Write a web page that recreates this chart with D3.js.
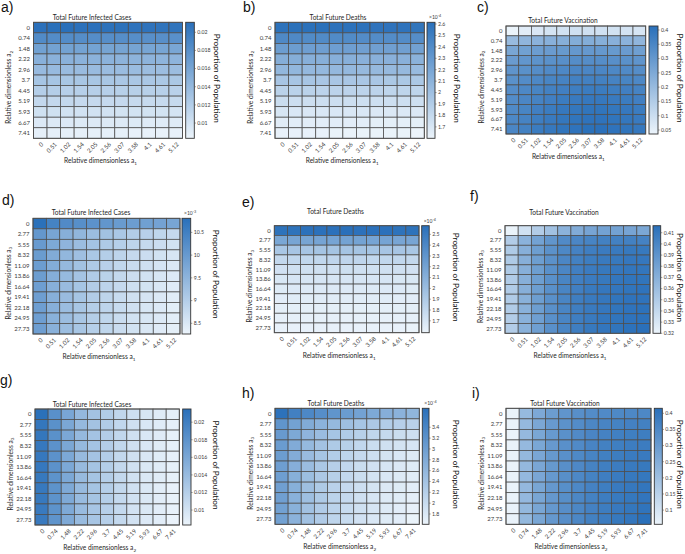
<!DOCTYPE html>
<html>
<head>
<meta charset="utf-8">
<script src="https://cdn.jsdelivr.net/npm/d3@7"></script>
<style>
body { margin: 0; background: #fff; }
text { font-family: Lato, 'Open Sans', sans-serif; fill: #262626; }
</style>
</head>
<body>
<svg id="fig" width="685" height="554"></svg>
<script>
// tick labels of the three parameters
const a1Ticks = ['0', '0.51', '1.02', '1.54', '2.05', '2.56', '3.07', '3.58', '4.1', '4.61', '5.12'];
const a2Ticks = ['0', '0.74', '1.48', '2.22', '2.96', '3.7', '4.45', '5.19', '5.93', '6.67', '7.41'];
const a3Ticks = ['0', '2.77', '5.55', '8.32', '11.09', '13.86', '16.64', '19.41', '22.18', '24.95', '27.73'];

// a) infected, rows a2, cols a1
const infA1A2 = [
  [0.0210,0.0211,0.0211,0.0210,0.0210,0.0209,0.0209,0.0208,0.0208,0.0207,0.0207],
  [0.0185,0.0184,0.0184,0.0183,0.0183,0.0182,0.0182,0.0182,0.0181,0.0181,0.0180],
  [0.0164,0.0163,0.0163,0.0162,0.0162,0.0161,0.0161,0.0161,0.0160,0.0160,0.0159],
  [0.0149,0.0148,0.0148,0.0147,0.0147,0.0147,0.0146,0.0146,0.0146,0.0145,0.0145],
  [0.0139,0.0139,0.0138,0.0138,0.0138,0.0137,0.0137,0.0137,0.0136,0.0136,0.0136],
  [0.0129,0.0129,0.0128,0.0128,0.0128,0.0128,0.0127,0.0127,0.0127,0.0126,0.0126],
  [0.0120,0.0120,0.0119,0.0119,0.0119,0.0119,0.0118,0.0118,0.0118,0.0118,0.0117],
  [0.0110,0.0110,0.0110,0.0109,0.0109,0.0109,0.0109,0.0108,0.0108,0.0108,0.0108],
  [0.0102,0.0102,0.0101,0.0101,0.0101,0.0101,0.0100,0.0100,0.0100,0.0100,0.0099],
  [0.0094,0.0094,0.0094,0.0093,0.0093,0.0093,0.0093,0.0093,0.0092,0.0092,0.0092],
  [0.0088,0.0088,0.0087,0.0087,0.0087,0.0087,0.0087,0.0086,0.0086,0.0086,0.0086]
];
// b) deaths (x1e-4)
const deaA1A2 = [
  [2.60,2.61,2.61,2.61,2.60,2.60,2.60,2.59,2.59,2.59,2.58],
  [2.42,2.42,2.41,2.41,2.41,2.41,2.40,2.40,2.40,2.40,2.39],
  [2.27,2.27,2.26,2.26,2.26,2.26,2.25,2.25,2.25,2.25,2.24],
  [2.14,2.14,2.13,2.13,2.13,2.13,2.12,2.12,2.12,2.12,2.11],
  [2.07,2.07,2.06,2.06,2.06,2.06,2.05,2.05,2.05,2.05,2.04],
  [1.96,1.96,1.96,1.95,1.95,1.95,1.95,1.95,1.94,1.94,1.94],
  [1.86,1.86,1.86,1.85,1.85,1.85,1.85,1.85,1.84,1.84,1.84],
  [1.78,1.77,1.77,1.77,1.77,1.77,1.76,1.76,1.76,1.76,1.76],
  [1.71,1.70,1.70,1.70,1.70,1.70,1.70,1.69,1.69,1.69,1.69],
  [1.66,1.65,1.65,1.65,1.65,1.65,1.65,1.64,1.64,1.64,1.64],
  [1.62,1.62,1.62,1.62,1.61,1.61,1.61,1.61,1.61,1.61,1.60]
];
// c) vaccination
const vacA1A2 = [
  [0.037,0.058,0.072,0.082,0.088,0.092,0.093,0.090,0.088,0.084,0.079],
  [0.200,0.215,0.225,0.230,0.235,0.240,0.240,0.235,0.230,0.225,0.215],
  [0.260,0.275,0.285,0.290,0.295,0.300,0.300,0.300,0.295,0.290,0.280],
  [0.290,0.305,0.315,0.320,0.325,0.330,0.330,0.330,0.325,0.320,0.310],
  [0.310,0.320,0.330,0.340,0.345,0.350,0.350,0.350,0.345,0.340,0.330],
  [0.320,0.335,0.345,0.355,0.360,0.365,0.365,0.365,0.360,0.355,0.345],
  [0.330,0.345,0.355,0.365,0.370,0.375,0.380,0.380,0.375,0.370,0.360],
  [0.335,0.350,0.360,0.370,0.380,0.385,0.390,0.390,0.385,0.380,0.370],
  [0.340,0.355,0.370,0.380,0.390,0.395,0.400,0.400,0.395,0.390,0.380],
  [0.345,0.360,0.375,0.385,0.395,0.400,0.405,0.405,0.400,0.395,0.385],
  [0.350,0.365,0.380,0.390,0.400,0.405,0.412,0.413,0.405,0.400,0.390]
];
// d) infected (x1e-3), rows a3, cols a1
const infA1A3 = [
  [10.80,10.45,10.30,10.22,10.15,10.07,9.99,9.94,9.89,9.84,9.79],
  [10.05,9.79,9.59,9.46,9.33,9.23,9.13,9.03,8.95,8.85,8.78],
  [10.00,9.72,9.49,9.33,9.21,9.08,8.98,8.88,8.78,8.70,8.62],
  [9.97,9.67,9.44,9.28,9.13,9.00,8.88,8.78,8.70,8.62,8.55],
  [9.95,9.64,9.41,9.23,9.08,8.95,8.83,8.72,8.65,8.57,8.49],
  [9.95,9.61,9.39,9.21,9.05,8.93,8.80,8.70,8.62,8.54,8.47],
  [9.92,9.59,9.36,9.18,9.03,8.90,8.78,8.67,8.60,8.52,8.44],
  [9.92,9.59,9.36,9.18,9.03,8.88,8.75,8.65,8.57,8.49,8.42],
  [9.92,9.59,9.33,9.16,9.00,8.88,8.75,8.65,8.54,8.47,8.39],
  [9.92,9.56,9.33,9.16,9.00,8.85,8.72,8.62,8.54,8.47,8.39],
  [9.92,9.56,9.33,9.16,8.98,8.85,8.72,8.62,8.52,8.44,8.37]
];
// e) deaths (x1e-4)
const deaA1A3 = [
  [2.56,2.56,2.57,2.57,2.57,2.58,2.57,2.57,2.57,2.56,2.56],
  [2.17,2.18,2.18,2.19,2.19,2.20,2.20,2.19,2.19,2.18,2.18],
  [1.93,1.94,1.94,1.95,1.95,1.95,1.95,1.95,1.94,1.94,1.93],
  [1.80,1.81,1.81,1.81,1.82,1.82,1.82,1.81,1.81,1.81,1.80],
  [1.73,1.74,1.74,1.74,1.74,1.75,1.74,1.74,1.74,1.74,1.73],
  [1.69,1.70,1.70,1.70,1.70,1.70,1.70,1.70,1.70,1.69,1.69],
  [1.66,1.67,1.67,1.67,1.67,1.67,1.67,1.67,1.67,1.67,1.66],
  [1.64,1.65,1.65,1.65,1.65,1.65,1.65,1.65,1.65,1.64,1.64],
  [1.63,1.63,1.63,1.63,1.63,1.63,1.63,1.63,1.63,1.63,1.63],
  [1.62,1.62,1.62,1.62,1.62,1.62,1.62,1.62,1.62,1.62,1.62],
  [1.61,1.61,1.61,1.61,1.61,1.61,1.61,1.61,1.61,1.61,1.60]
];
// f) vaccination
const vacA1A3 = [
  [0.321,0.334,0.349,0.357,0.368,0.373,0.378,0.380,0.380,0.378,0.376],
  [0.349,0.368,0.380,0.389,0.397,0.400,0.402,0.404,0.404,0.404,0.403],
  [0.351,0.370,0.383,0.392,0.399,0.403,0.406,0.408,0.409,0.410,0.410],
  [0.351,0.370,0.383,0.392,0.400,0.404,0.407,0.409,0.410,0.411,0.411],
  [0.351,0.370,0.383,0.393,0.400,0.405,0.408,0.410,0.411,0.412,0.412],
  [0.350,0.370,0.383,0.393,0.401,0.405,0.408,0.410,0.412,0.413,0.413],
  [0.350,0.370,0.383,0.393,0.401,0.405,0.409,0.411,0.412,0.413,0.414],
  [0.350,0.369,0.383,0.393,0.401,0.406,0.409,0.411,0.413,0.414,0.414],
  [0.350,0.369,0.383,0.393,0.401,0.406,0.409,0.411,0.413,0.414,0.415],
  [0.349,0.369,0.382,0.393,0.401,0.406,0.409,0.412,0.413,0.414,0.415],
  [0.349,0.369,0.382,0.393,0.401,0.406,0.410,0.412,0.413,0.415,0.416]
];
// g) infected, rows a3, cols a2
const infA2A3 = [
  [0.0214,0.0183,0.0161,0.0143,0.0133,0.0123,0.0113,0.0104,0.0097,0.0092,0.0088],
  [0.0208,0.0182,0.0160,0.0142,0.0133,0.0123,0.0112,0.0103,0.0096,0.0092,0.0088],
  [0.0208,0.0182,0.0160,0.0142,0.0132,0.0122,0.0112,0.0103,0.0096,0.0092,0.0087],
  [0.0207,0.0181,0.0160,0.0142,0.0132,0.0122,0.0112,0.0103,0.0096,0.0091,0.0087],
  [0.0207,0.0181,0.0159,0.0141,0.0132,0.0122,0.0111,0.0103,0.0096,0.0091,0.0087],
  [0.0207,0.0181,0.0159,0.0141,0.0131,0.0121,0.0111,0.0102,0.0095,0.0091,0.0087],
  [0.0206,0.0180,0.0159,0.0141,0.0131,0.0121,0.0111,0.0102,0.0095,0.0091,0.0087],
  [0.0206,0.0180,0.0158,0.0141,0.0131,0.0121,0.0111,0.0102,0.0095,0.0090,0.0086],
  [0.0206,0.0180,0.0158,0.0140,0.0131,0.0121,0.0110,0.0102,0.0095,0.0090,0.0086],
  [0.0205,0.0180,0.0158,0.0140,0.0130,0.0120,0.0110,0.0101,0.0095,0.0090,0.0086],
  [0.0205,0.0179,0.0158,0.0140,0.0130,0.0120,0.0110,0.0101,0.0094,0.0090,0.0084]
];
// h) deaths (x1e-4)
const deaA2A3 = [
  [3.72,3.49,3.36,3.26,3.15,3.04,2.94,2.83,2.74,2.68,2.62],
  [3.15,2.94,2.79,2.68,2.57,2.47,2.38,2.32,2.25,2.21,2.17],
  [3.07,2.83,2.64,2.51,2.38,2.27,2.19,2.10,2.04,1.99,1.95],
  [3.04,2.79,2.57,2.42,2.29,2.19,2.08,1.99,1.93,1.89,1.85],
  [3.02,2.77,2.53,2.38,2.25,2.12,2.04,1.95,1.89,1.82,1.78],
  [3.00,2.74,2.51,2.34,2.21,2.08,1.99,1.91,1.85,1.80,1.76],
  [3.00,2.72,2.49,2.32,2.19,2.06,1.97,1.89,1.82,1.78,1.74],
  [2.98,2.72,2.47,2.29,2.17,2.04,1.95,1.87,1.80,1.76,1.72],
  [2.98,2.70,2.47,2.29,2.15,2.04,1.93,1.85,1.78,1.74,1.70],
  [2.96,2.70,2.44,2.27,2.15,2.02,1.93,1.85,1.78,1.72,1.67],
  [2.96,2.68,2.44,2.27,2.12,2.02,1.91,1.82,1.76,1.72,1.63]
];
// i) vaccination
const vacA2A3 = [
  [0.060,0.215,0.262,0.294,0.315,0.330,0.340,0.345,0.348,0.350,0.350],
  [0.060,0.218,0.266,0.300,0.323,0.340,0.352,0.360,0.365,0.368,0.370],
  [0.060,0.218,0.267,0.302,0.326,0.344,0.357,0.366,0.372,0.376,0.378],
  [0.061,0.218,0.267,0.303,0.328,0.346,0.360,0.370,0.376,0.381,0.383],
  [0.061,0.219,0.268,0.304,0.329,0.348,0.362,0.373,0.380,0.385,0.388],
  [0.061,0.219,0.268,0.305,0.330,0.349,0.364,0.375,0.383,0.388,0.392],
  [0.061,0.219,0.268,0.305,0.331,0.350,0.365,0.377,0.385,0.391,0.395],
  [0.062,0.219,0.269,0.306,0.332,0.351,0.366,0.378,0.387,0.393,0.398],
  [0.062,0.219,0.269,0.306,0.332,0.352,0.367,0.380,0.389,0.395,0.401],
  [0.062,0.220,0.269,0.306,0.333,0.353,0.368,0.381,0.390,0.397,0.404],
  [0.062,0.220,0.269,0.307,0.333,0.353,0.369,0.382,0.391,0.399,0.415]
];

// colour limits and colourbar ticks
const limInf12 = [0.00832, 0.0211], ticksInf12 = [0.01, 0.012, 0.014, 0.016, 0.018, 0.02];
const limDea12 = [1.60, 2.615],     ticksDea12 = [1.7, 1.8, 1.9, 2, 2.1, 2.2, 2.3, 2.4, 2.5, 2.6];
const limVac12 = [0.036, 0.414],    ticksVac12 = [0.05, 0.1, 0.15, 0.2, 0.25, 0.3, 0.35, 0.4];
const limInf13 = [8.265, 10.81],    ticksInf13 = [8.5, 9, 9.5, 10, 10.5];
const limDea13 = [1.59, 2.58],      ticksDea13 = [1.7, 1.8, 1.9, 2, 2.1, 2.2, 2.3, 2.4, 2.5];
const limVac13 = [0.32, 0.4163],    ticksVac13 = [0.32, 0.33, 0.34, 0.35, 0.36, 0.37, 0.38, 0.39, 0.4, 0.41];
const limInf23 = [0.0083, 0.0215],  ticksInf23 = [0.01, 0.012, 0.014, 0.016, 0.018, 0.02];
const limDea23 = [1.61, 3.75],      ticksDea23 = [1.8, 2, 2.2, 2.4, 2.6, 2.8, 3, 3.2, 3.4];
const limVac23 = [0.056, 0.4155],   ticksVac23 = [0.1, 0.15, 0.2, 0.25, 0.3, 0.35, 0.4];

const T_INF = 'Total Future Infected Cases', T_DEA = 'Total Future Deaths', T_VAC = 'Total Future Vaccination';

const panels = [
  {key:'a', data:infA1A2, xt:a1Ticks, yt:a2Ticks, xs:'1', ys:'2', title:T_INF, lim:limInf12, ticks:ticksInf12, exp:null},
  {key:'b', data:deaA1A2, xt:a1Ticks, yt:a2Ticks, xs:'1', ys:'2', title:T_DEA, lim:limDea12, ticks:ticksDea12, exp:'-4'},
  {key:'c', data:vacA1A2, xt:a1Ticks, yt:a2Ticks, xs:'1', ys:'2', title:T_VAC, lim:limVac12, ticks:ticksVac12, exp:null},
  {key:'d', data:infA1A3, xt:a1Ticks, yt:a3Ticks, xs:'1', ys:'3', title:T_INF, lim:limInf13, ticks:ticksInf13, exp:'-3'},
  {key:'e', data:deaA1A3, xt:a1Ticks, yt:a3Ticks, xs:'1', ys:'3', title:T_DEA, lim:limDea13, ticks:ticksDea13, exp:'-4'},
  {key:'f', data:vacA1A3, xt:a1Ticks, yt:a3Ticks, xs:'1', ys:'3', title:T_VAC, lim:limVac13, ticks:ticksVac13, exp:null},
  {key:'g', data:infA2A3, xt:a2Ticks, yt:a3Ticks, xs:'2', ys:'3', title:T_INF, lim:limInf23, ticks:ticksInf23, exp:null},
  {key:'h', data:deaA2A3, xt:a2Ticks, yt:a3Ticks, xs:'2', ys:'3', title:T_DEA, lim:limDea23, ticks:ticksDea23, exp:'-4'},
  {key:'i', data:vacA2A3, xt:a2Ticks, yt:a3Ticks, xs:'2', ys:'3', title:T_VAC, lim:limVac23, ticks:ticksVac23, exp:null}
];

// where each panel sits on the page (cl = x of the colourbar label)
const layout = {
  a:{gx:33.5, gy:22.3, gw:149,   gh:116,   cbx:185.7, cbw:8.6, tx:92,    ty:19.5,  lx:1,   ly:12,    cl:213.5},
  b:{gx:275,  gy:22.3, gw:149.3, gh:116,   cbx:427,   cbw:8,   tx:338,   ty:20,    lx:243, ly:11.5,  cl:453.5},
  c:{gx:506,  gy:26,   gw:139.7, gh:108,   cbx:649,   cbw:9,   tx:563,   ty:23,    lx:477, ly:11.5,  cl:677},
  d:{gx:33,   gy:218.3,gw:147,   gh:115.7, cbx:182,   cbw:8.7, tx:91,    ty:215,   lx:2,   ly:205,   cl:212.5},
  e:{gx:274.3,gy:225.7,gw:144.7, gh:107,   cbx:421.7, cbw:7.5, tx:335.5, ty:213.5, lx:242, ly:206.5, cl:453},
  f:{gx:505,  gy:225.7,gw:145,   gh:107.6, cbx:653,   cbw:7.7, tx:564,   ty:214.5, lx:470, ly:200.7, cl:677},
  g:{gx:35,   gy:409,  gw:144.3, gh:116,   cbx:182.7, cbw:8.3, tx:92,    ty:406.5, lx:0,   ly:385,   cl:213},
  h:{gx:275,  gy:408.3,gw:144.3, gh:116,   cbx:422.3, cbw:6.7, tx:336,   ty:406,   lx:242, ly:397.7, cl:453},
  i:{gx:506,  gy:408.3,gw:145,   gh:116,   cbx:654.3, cbw:8,   tx:565,   ty:405.5, lx:472, ly:397.7, cl:677}
};

const LIGHT = 'rgb(236,244,251)', DARK = 'rgb(42,112,186)';
const GRID = '#4d4d4d';

const svg = d3.select('#fig');
svg.append('rect').attr('width', 685).attr('height', 554).attr('fill', '#fff');
const defs = svg.append('defs');

panels.forEach(p => {
  const L = layout[p.key];
  const g = svg.append('g').attr('class', 'panel-' + p.key);

  const color = d3.scaleSequential(d3.interpolateRgb(LIGHT, DARK)).domain(p.lim).clamp(true);
  const x = d3.scaleBand().domain(d3.range(p.xt.length)).range([L.gx, L.gx + L.gw]);
  const y = d3.scaleBand().domain(d3.range(p.yt.length)).range([L.gy, L.gy + L.gh]);

  const cells = [];
  p.data.forEach((row, r) => row.forEach((v, c) => cells.push({r, c, v})));

  g.selectAll('rect.cell').data(cells).join('rect')
    .attr('class', 'cell')
    .attr('x', d => x(d.c)).attr('y', d => y(d.r))
    .attr('width', x.bandwidth()).attr('height', y.bandwidth())
    .attr('fill', d => color(d.v))
    .attr('stroke', GRID).attr('stroke-width', 0.75);

  g.append('rect')
    .attr('x', L.gx).attr('y', L.gy).attr('width', L.gw).attr('height', L.gh)
    .attr('fill', 'none').attr('stroke', GRID).attr('stroke-width', 0.9);

  // y tick labels
  g.selectAll('text.ytick').data(p.yt).join('text')
    .attr('class', 'ytick')
    .attr('x', L.gx - 3.5)
    .attr('y', (d, i) => y(i) + y.bandwidth() / 2)
    .attr('dy', '0.35em')
    .attr('text-anchor', 'end')
    .attr('font-size', 6)
    .style('fill', '#3a3a3a')
    .text(d => d);

  // x tick labels, rotated
  g.selectAll('text.xtick').data(p.xt).join('text')
    .attr('class', 'xtick')
    .attr('transform', (d, i) => `translate(${x(i) + x.bandwidth() / 2 + 2},${L.gy + L.gh + 5}) rotate(-45)`)
    .attr('text-anchor', 'end')
    .attr('dy', '0.35em')
    .attr('font-size', 6)
    .style('fill', '#3a3a3a')
    .text(d => d);

  // title
  g.append('text')
    .attr('x', L.tx).attr('y', L.ty)
    .attr('text-anchor', 'middle')
    .attr('font-size', 6.6)
    .text(p.title);

  // axis labels
  const xl = g.append('text')
    .attr('x', L.gx + L.gw / 2 - 7.5).attr('y', L.gy + L.gh + 25)
    .attr('text-anchor', 'middle')
    .attr('font-size', 6.6);
  xl.append('tspan').text('Relative dimensionless a');
  xl.append('tspan').attr('dy', 1.8).attr('font-size', 4.6).text(p.xs);

  const yl = g.append('text')
    .attr('transform', `translate(${L.gx - 22.5},${L.gy + L.gh / 2 + 7}) rotate(-90)`)
    .attr('text-anchor', 'middle')
    .attr('font-size', 6.6);
  yl.append('tspan').text('Relative dimensionless a');
  yl.append('tspan').attr('dy', 1.8).attr('font-size', 4.6).text(p.ys);

  // colourbar
  const gradId = 'grad-' + p.key;
  const grad = defs.append('linearGradient').attr('id', gradId)
    .attr('x1', 0).attr('y1', 1).attr('x2', 0).attr('y2', 0);
  grad.append('stop').attr('offset', 0).attr('stop-color', color(p.lim[0]));
  grad.append('stop').attr('offset', 1).attr('stop-color', color(p.lim[1]));

  const cy = d3.scaleLinear().domain(p.lim).range([L.gy + L.gh, L.gy]);
  g.append('rect')
    .attr('x', L.cbx).attr('y', L.gy).attr('width', L.cbw).attr('height', L.gh)
    .attr('fill', `url(#${gradId})`)
    .attr('stroke', '#333').attr('stroke-width', 0.9);

  g.selectAll('line.cbtick').data(p.ticks).join('line')
    .attr('class', 'cbtick')
    .attr('x1', L.cbx + L.cbw).attr('x2', L.cbx + L.cbw + 1.6)
    .attr('y1', d => cy(d)).attr('y2', d => cy(d))
    .attr('stroke', '#555').attr('stroke-width', 0.6);

  g.selectAll('text.cbl').data(p.ticks).join('text')
    .attr('class', 'cbl')
    .attr('x', L.cbx + L.cbw + 3)
    .attr('y', d => cy(d))
    .attr('dy', '0.35em')
    .attr('font-size', 5.2)
    .style('fill', '#3a3a3a')
    .text(d => d3.format('~g')(d));

  if (p.exp) {
    const ex = g.append('text')
      .attr('x', L.cbx + 2).attr('y', L.gy - 3)
      .attr('font-size', 5)
      .style('fill', '#3a3a3a');
    ex.append('tspan').text('\u00d710');
    ex.append('tspan').attr('dy', -2).attr('font-size', 3.8).text(p.exp);
  }

  g.append('text')
    .attr('transform', `translate(${L.cl},${L.gy + L.gh / 2 - 2}) rotate(90)`)
    .attr('text-anchor', 'middle')
    .attr('font-size', 8.2)
    .style('fill', '#111')
    .text('Proportion of Population');

  // panel letter
  svg.append('text')
    .attr('x', L.lx).attr('y', L.ly)
    .attr('font-size', 14)
    .style('font-family', "'Liberation Sans', Arial, sans-serif")
    .style('fill', '#111')
    .text(p.key + ')');
});
</script>
</body>
</html>
